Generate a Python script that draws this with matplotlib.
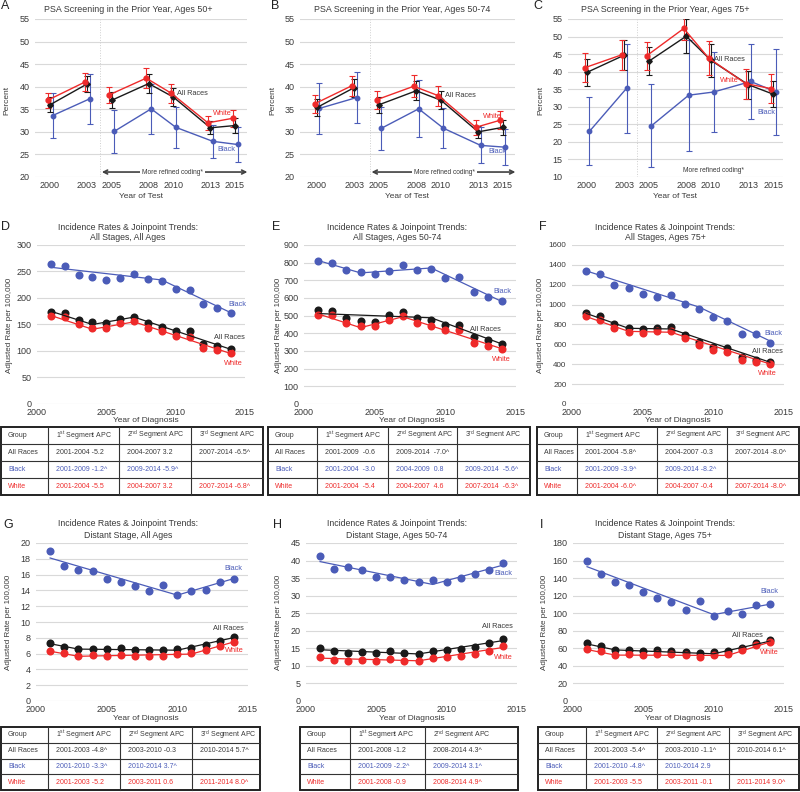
import matplotlib
matplotlib.use('Agg')
import matplotlib.pyplot as plt

plt.rcParams['font.family'] = ['Liberation Sans', 'DejaVu Sans']
plt.rcParams['mathtext.default'] = 'regular'

W, H = 800, 792
fig = plt.figure(figsize=(8, 7.92), dpi=100)

BLACK = '#1a1a1a'
BLUE = '#4b5cb8'
RED = '#ee2a2a'
GRID = '#d9d9d9'
TXT = '#3a3a3a'

# ---------------- DATA ----------------
psa_years = [2000, 2003, 2005, 2008, 2010, 2013, 2015]

psaA_all = [36.0, 40.6, 37.0, 40.7, 37.7, 30.9, 31.4]
psaA_all_err = [1.7, 1.8, 1.8, 2.1, 2.0, 1.4, 1.7]
psaA_white = [37.0, 41.0, 38.2, 41.9, 38.6, 32.0, 33.0]
psaA_white_err = [1.7, 2.0, 1.8, 2.2, 2.1, 1.5, 1.9]
psaA_black = [33.6, 37.3, 30.1, 35.1, 31.0, 27.9, 27.2]
psaA_black_err = [5.0, 5.5, 4.8, 5.5, 4.6, 3.7, 3.8]

psaB_all = [35.4, 39.8, 36.0, 39.1, 37.0, 30.0, 31.0]
psaB_all_err = [1.8, 2.0, 1.8, 2.1, 2.0, 1.4, 1.7]
psaB_white = [36.2, 40.2, 37.1, 40.1, 38.0, 31.0, 32.6]
psaB_white_err = [2.0, 2.2, 2.0, 2.4, 2.2, 1.6, 2.0]
psaB_black = [35.2, 37.6, 30.8, 35.1, 30.8, 27.0, 26.6]
psaB_black_err = [5.7, 5.7, 4.8, 6.3, 4.4, 4.0, 4.0]

psaC_all = [39.8, 44.7, 43.0, 50.1, 43.2, 36.3, 33.6]
psaC_all_err = [3.8, 4.2, 4.0, 4.9, 4.8, 4.0, 3.8]
psaC_white = [41.1, 44.8, 44.5, 52.3, 43.9, 36.6, 35.2]
psaC_white_err = [4.1, 4.3, 4.0, 3.4, 4.9, 4.3, 4.1]
psaC_black = [23.0, 35.3, 24.6, 33.3, 34.2, 37.2, 34.3]
psaC_black_err = [9.7, 12.7, 11.8, 15.8, 11.5, 10.6, 12.2]

inc_years = [2001, 2002, 2003, 2004, 2005, 2006, 2007,
             2008, 2009, 2010, 2011, 2012, 2013, 2014]

incD_black = [264, 260, 243, 240, 234, 238, 246, 235, 233, 217, 216, 189, 182, 171]
incD_all = [174, 172, 158, 154, 152, 161, 165, 153, 146, 137, 137, 114, 110, 104]
incD_white = [166, 164, 150, 144, 143, 152, 156, 144, 137, 128, 127, 106, 102, 96]
fitD_black_x, fitD_black_y = [2001, 2009, 2014], [258, 234, 172]
fitD_all_x, fitD_all_y = [2001, 2004, 2007, 2014], [175, 150, 164, 103]
fitD_white_x, fitD_white_y = [2001, 2004, 2007, 2014], [167, 141, 155, 95]

incE_black = [811, 798, 757, 747, 734, 753, 785, 758, 764, 715, 717, 632, 608, 585]
incE_all = [532, 528, 485, 472, 464, 502, 521, 489, 477, 447, 447, 377, 360, 340]
incE_white = [506, 504, 457, 443, 440, 477, 498, 460, 443, 419, 419, 343, 328, 313]
fitE_black_x, fitE_black_y = [2001, 2004, 2009, 2014], [812, 742, 770, 580]
fitE_all_x, fitE_all_y = [2001, 2009, 2014], [512, 488, 340]
fitE_white_x, fitE_white_y = [2001, 2004, 2007, 2014], [510, 432, 494, 313]

incF_black = [1342, 1308, 1197, 1169, 1105, 1081, 1092, 1003, 956, 871, 834, 705, 705, 617]
incF_all = [915, 885, 810, 769, 756, 769, 773, 692, 627, 576, 559, 475, 447, 427]
incF_white = [881, 847, 769, 729, 719, 736, 736, 661, 590, 539, 522, 441, 424, 403]
fitF_black_x, fitF_black_y = [2001, 2009, 2014], [1340, 975, 635]
fitF_all_x, fitF_all_y = [2001, 2004, 2007, 2014], [912, 762, 755, 421]
fitF_white_x, fitF_white_y = [2001, 2004, 2007, 2014], [880, 731, 722, 403]

incG_black = [18.94, 17.12, 16.6, 16.4, 15.5, 15.08, 14.53, 13.94, 14.66, 13.47, 13.94, 14.07, 15.08, 15.47]
incG_all = [7.29, 6.86, 6.57, 6.57, 6.53, 6.65, 6.48, 6.44, 6.48, 6.61, 6.74, 7.08, 7.58, 8.05]
incG_white = [6.31, 6.02, 5.64, 5.76, 5.72, 5.85, 5.72, 5.68, 5.72, 5.97, 6.06, 6.48, 6.99, 7.5]
fitG_black_x, fitG_black_y = [2001, 2010, 2014], [18.1, 13.4, 15.5]
fitG_all_x, fitG_all_y = [2001, 2003, 2010, 2014], [7.25, 6.57, 6.43, 8.03]
fitG_white_x, fitG_white_y = [2001, 2003, 2011, 2014], [6.3, 5.66, 5.94, 7.48]

incH_black = [41.4, 37.5, 38.2, 37.4, 35.4, 35.4, 34.4, 34.0, 34.4, 34.0, 35.0, 36.2, 37.4, 39.2]
incH_all = [15.06, 14.1, 13.8, 13.9, 13.8, 14.1, 13.6, 13.3, 14.3, 14.6, 14.9, 15.3, 16.4, 17.7]
incH_white = [12.6, 11.8, 11.4, 11.6, 11.5, 12.0, 11.4, 11.3, 12.2, 12.5, 12.9, 13.3, 14.2, 15.6]
fitH_black_x, fitH_black_y = [2001, 2009, 2014], [39.7, 33.2, 38.7]
fitH_all_x, fitH_all_y = [2001, 2008, 2014], [14.6, 13.4, 17.2]
fitH_white_x, fitH_white_y = [2001, 2008, 2014], [12.2, 11.45, 15.25]

incI_black = [159.8, 144.6, 135.5, 132.1, 124.5, 117.3, 112.7, 104.0, 114.2, 96.3, 102.1, 99.0, 109.7, 110.8]
incI_all = [65.6, 62.5, 58.0, 58.0, 56.8, 57.6, 56.8, 56.0, 54.5, 55.3, 56.4, 60.2, 65.6, 69.0]
incI_white = [58.7, 56.4, 52.6, 53.0, 52.6, 53.4, 53.0, 52.6, 50.3, 52.6, 53.4, 58.0, 63.3, 67.1]
fitI_black_x, fitI_black_y = [2001, 2010, 2014], [153, 98.4, 110.3]
fitI_all_x, fitI_all_y = [2001, 2003, 2010, 2014], [65, 58.2, 53.8, 68.2]
fitI_white_x, fitI_white_y = [2001, 2003, 2011, 2014], [58.6, 52.3, 51.9, 67.2]

table_header = ['Group', '1$^{st}$ Segment APC', '2$^{nd}$ Segment APC', '3$^{rd}$ Segment APC']
groups = ['All Races', 'Black', 'White']
tabD = [['2001-2004 -5.2', '2004-2007 3.2', '2007-2014 -6.5^'],
        ['2001-2009 -1.2^', '2009-2014 -5.9^', ''],
        ['2001-2004 -5.5', '2004-2007 3.2', '2007-2014 -6.8^']]
tabE = [['2001-2009  -0.6', '2009-2014  -7.0^', ''],
        ['2001-2004  -3.0', '2004-2009  0.8', '2009-2014  -5.6^'],
        ['2001-2004  -5.4', '2004-2007  4.6', '2007-2014  -6.3^']]
tabF = [['2001-2004 -5.8^', '2004-2007 -0.3', '2007-2014 -8.0^'],
        ['2001-2009 -3.9^', '2009-2014 -8.2^', ''],
        ['2001-2004 -6.0^', '2004-2007 -0.4', '2007-2014 -8.0^']]
tabG = [['2001-2003 -4.8^', '2003-2010 -0.3', '2010-2014 5.7^'],
        ['2001-2010 -3.3^', '2010-2014 3.7^', ''],
        ['2001-2003 -5.2', '2003-2011 0.6', '2011-2014 8.0^']]
tabH = [['2001-2008 -1.2', '2008-2014 4.3^'],
        ['2001-2009 -2.2^', '2009-2014 3.1^'],
        ['2001-2008 -0.9', '2008-2014 4.9^']]
tabI = [['2001-2003 -5.4^', '2003-2010 -1.1^', '2010-2014 6.1^'],
        ['2001-2010 -4.8^', '2010-2014 2.9', ''],
        ['2001-2003 -5.5', '2003-2011 -0.1', '2011-2014 9.0^']]


# ---------------- HELPERS ----------------
def rect(x0, y0, x1, y1):
    return [x0 / W, 1 - y1 / H, (x1 - x0) / W, (y1 - y0) / H]


def ftext(x, y, s, **kw):
    fig.text(x / W, 1 - y / H, s, **kw)


def style_axes(ax, ylim, yticks, xticks, ysize=6.5):
    ax.set_ylim(*ylim)
    ax.set_yticks(yticks)
    ax.set_xticks(xticks)
    ax.set_xticklabels([str(t) for t in xticks])
    for s in ax.spines.values():
        s.set_visible(False)
    ax.yaxis.grid(True, color=GRID, lw=0.8)
    ax.set_axisbelow(True)
    ax.tick_params(length=0, labelsize=6.5, colors=TXT, pad=4)
    ax.tick_params(axis='y', labelsize=ysize)
    ax.tick_params(axis='x', pad=3)


def psa_panel(px, xlim, ylim, yticks, series, labels, vline, arrow):
    ax = fig.add_axes(rect(*px))
    ax.set_xlim(*xlim)
    style_axes(ax, ylim, yticks, psa_years)
    ax.axvline(vline, color='#cfcfcf', lw=0.7, ls=':')
    for vals, errs, color, marker, ms, dx in series:
        xs = [y + dx for y in psa_years]
        ax.errorbar(xs, vals, yerr=errs, fmt='none', ecolor=color, elinewidth=0.8,
                    capsize=2.0, capthick=0.8, zorder=3)
        for a, b in [(0, 2), (2, 7)]:
            ax.plot(xs[a:b], vals[a:b], color=color, lw=1.0, marker=marker,
                    ms=ms, zorder=4)
    for txt, x, y, c in labels:
        ax.text(x, y, txt, color=c, fontsize=5.3, ha='left', va='center', zorder=6)
    x0, x1, y, xt = arrow
    ax.annotate('', xy=(x1, y), xytext=(x0, y),
                arrowprops=dict(arrowstyle='<->', color='#404040', lw=1.2,
                                mutation_scale=7, shrinkA=0, shrinkB=0))
    ax.text(xt, y, 'More refined coding*', fontsize=4.8, color=TXT, ha='center',
            va='center', bbox=dict(fc='white', ec='none', pad=1.5), zorder=7)
    return ax


def inc_panel(px, ylim, yticks, pts, fits, labels, ysize=6.5):
    ax = fig.add_axes(rect(*px))
    ax.set_xlim(2000, 2015)
    style_axes(ax, ylim, yticks, [2000, 2005, 2010, 2015], ysize)
    for vals, color in pts:
        ax.plot(inc_years, vals, ls='none', marker='o', ms=5.8, color=color,
                mec='none', zorder=3)
    for fx, fy, color in fits:
        ax.plot(fx, fy, color=color, lw=0.9, zorder=4)
    for txt, x, y, c in labels:
        ax.text(x, y, txt, color=c, fontsize=5.3, ha='right', va='center', zorder=6)
    return ax


def draw_table(x0, y0, x1, y1, cols, header, rows):
    ax = fig.add_axes(rect(x0, y0, x1, y1))
    ax.set_xlim(x0, x1)
    ax.set_ylim(y1, y0)
    ax.axis('off')
    n = len(rows) + 1
    rh = (y1 - y0) / n
    for i in range(1, n):
        ax.plot([x0, x1], [y0 + i * rh] * 2, color='#333333', lw=0.8, clip_on=False)
    for c in cols[1:-1]:
        ax.plot([c, c], [y0, y1], color='#333333', lw=0.8, clip_on=False)
    ax.add_patch(plt.Rectangle((x0, y0), x1 - x0, y1 - y0, fill=False,
                               ec='#222222', lw=1.4, clip_on=False))
    colors = [TXT, BLUE, RED]
    allrows = [(header, TXT)] + [([g] + r, colors[i]) for i, (g, r) in
                                  enumerate(zip(groups, rows))]
    for i, (cells, col) in enumerate(allrows):
        yc = y0 + (i + 0.5) * rh
        for j, s in enumerate(cells[:len(cols) - 1]):
            pad = 8 if j > 0 else 7
            ax.text(cols[j] + pad, yc, s, fontsize=5.0, color=col, ha='left',
                    va='center')


# ---------------- PSA ROW ----------------
def psa_series(allv, alle, wv, we, bv, be):
    return [(bv, be, BLUE, 'o', 3.2, 0.2),
            (allv, alle, BLACK, 'D', 2.8, 0.0),
            (wv, we, RED, 'o', 3.5, -0.2)]

psa_panel((35, 19, 247, 177), (1998.78, 2015.97), (20, 55), range(20, 56, 5),
          psa_series(psaA_all, psaA_all_err, psaA_white, psaA_white_err,
                     psaA_black, psaA_black_err),
          [('All Races', 2010.3, 38.6, TXT), ('White', 2013.2, 34.0, RED),
           ('Black', 2013.6, 26.0, BLUE)],
          2004.05, (2004.2, 2016.0, 21.1, 2009.9))
psa_panel((300, 19, 515, 177), (1998.63, 2015.97), (20, 55), range(20, 56, 5),
          psa_series(psaB_all, psaB_all_err, psaB_white, psaB_white_err,
                     psaB_black, psaB_black_err),
          [('All Races', 2010.3, 38.0, TXT), ('White', 2013.4, 33.4, RED),
           ('Black', 2013.8, 25.7, BLUE)],
          2004.3, (2004.4, 2016.0, 21.1, 2010.3))
psa_panel((568, 19, 783, 177), (1998.47, 2015.8), (10, 55), range(10, 56, 5),
          psa_series(psaC_all, psaC_all_err, psaC_white, psaC_white_err,
                     psaC_black, psaC_black_err),
          [('All Races', 2010.2, 43.6, TXT), ('White', 2010.7, 37.4, RED),
           ('Black', 2013.7, 28.4, BLUE)],
          2004.0, (2004.1, 2015.9, 11.8, 2010.2))

for xc, t in [(128, 'PSA Screening in the Prior Year, Ages 50+'),
              (402, 'PSA Screening in the Prior Year, Ages 50-74'),
              (665, 'PSA Screening in the Prior Year, Ages 75+')]:
    ftext(xc, 10, t, fontsize=6.4, color=TXT, ha='center', va='center')
for xc in [141, 407, 675]:
    ftext(xc, 196, 'Year of Test', fontsize=6.0, color=TXT, ha='center', va='center')
for xc in [7, 273, 541]:
    ftext(xc, 100, 'Percent', fontsize=6.0, color=TXT, ha='center', va='center',
          rotation=90)
for x, t in [(5, 'A'), (275, 'B'), (538, 'C')]:
    ftext(x, 6, t, fontsize=9, color='#222222', ha='center', va='center')

# ---------------- INCIDENCE ROWS ----------------
def pts3(b, a, w):
    return [(b, BLUE), (a, BLACK), (w, RED)]

inc_panel((37, 245, 245, 404), (0, 300), range(0, 301, 50),
          pts3(incD_black, incD_all, incD_white),
          [(fitD_black_x, fitD_black_y, BLUE), (fitD_all_x, fitD_all_y, BLACK),
           (fitD_white_x, fitD_white_y, RED)],
          [('Black', 2015.1, 187, BLUE), ('All Races', 2015.0, 125, TXT),
           ('White', 2014.8, 76, RED)])
inc_panel((304, 245, 516, 404), (0, 900), range(0, 901, 100),
          pts3(incE_black, incE_all, incE_white),
          [(fitE_black_x, fitE_black_y, BLUE), (fitE_all_x, fitE_all_y, BLACK),
           (fitE_white_x, fitE_white_y, RED)],
          [('Black', 2014.7, 636, BLUE), ('All Races', 2013.9, 419, TXT),
           ('White', 2014.6, 253, RED)])
inc_panel((572, 245, 784, 404), (0, 1600), range(0, 1601, 200),
          pts3(incF_black, incF_all, incF_white),
          [(fitF_black_x, fitF_black_y, BLUE), (fitF_all_x, fitF_all_y, BLACK),
           (fitF_white_x, fitF_white_y, RED)],
          [('Black', 2014.9, 708, BLUE), ('All Races', 2014.9, 529, TXT),
           ('White', 2014.5, 309, RED)], ysize=5.8)
inc_panel((36, 543, 248, 701), (0, 20), range(0, 21, 2),
          pts3(incG_black, incG_all, incG_white),
          [(fitG_black_x, fitG_black_y, BLUE), (fitG_all_x, fitG_all_y, BLACK),
           (fitG_white_x, fitG_white_y, RED)],
          [('Black', 2014.6, 16.8, BLUE), ('All Races', 2014.7, 9.2, TXT),
           ('White', 2014.7, 6.4, RED)])
inc_panel((306, 543, 517, 701), (0, 45), range(0, 46, 5),
          pts3(incH_black, incH_all, incH_white),
          [(fitH_black_x, fitH_black_y, BLUE), (fitH_all_x, fitH_all_y, BLACK),
           (fitH_white_x, fitH_white_y, RED)],
          [('Black', 2014.7, 36.2, BLUE), ('All Races', 2014.7, 21.2, TXT),
           ('White', 2014.7, 12.3, RED)])
inc_panel((573, 543, 784, 701), (0, 180), range(0, 181, 20),
          pts3(incI_black, incI_all, incI_white),
          [(fitI_black_x, fitI_black_y, BLUE), (fitI_all_x, fitI_all_y, BLACK),
           (fitI_white_x, fitI_white_y, RED)],
          [('Black', 2014.6, 124.9, BLUE), ('All Races', 2013.5, 74.7, TXT),
           ('White', 2014.6, 55, RED)])

inc_titles = [(128, 227, 'All Stages, All Ages'), (397, 227, 'All Stages, Ages 50-74'),
              (665, 227, 'All Stages, Ages 75+'), (128, 524, 'Distant Stage, All Ages'),
              (397, 524, 'Distant Stage, Ages 50-74'), (665, 524, 'Distant Stage, Ages 75+')]
for xc, y, t in inc_titles:
    ftext(xc, y, 'Incidence Rates & Joinpoint Trends:', fontsize=6.3, color=TXT,
          ha='center', va='center')
    ftext(xc, y + 11, t, fontsize=6.3, color=TXT, ha='center', va='center')
for x, y, t in [(6, 227, 'D'), (276, 227, 'E'), (543, 227, 'F'),
                (8, 525, 'G'), (277, 525, 'H'), (542, 525, 'I')]:
    ftext(x, y, t, fontsize=9, color='#222222', ha='center', va='center')
for xc, y in [(10, 325), (278, 325), (541, 325), (9, 622), (278, 622), (545, 622)]:
    ftext(xc, y, 'Adjusted Rate per 100,000', fontsize=5.8, color=TXT,
          ha='center', va='center', rotation=90)
for xc, y in [(146, 420), (412, 420), (678, 420), (146, 718), (412, 718), (678, 718)]:
    ftext(xc, y, 'Year of Diagnosis', fontsize=6.0, color=TXT, ha='center', va='center')

# ---------------- TABLES ----------------
draw_table(1, 427, 263, 495, [1, 48, 119, 191, 263], table_header, tabD)
draw_table(268, 427, 530, 495, [268, 317, 388, 457, 530], table_header, tabE)
draw_table(537, 427, 799, 495, [537, 577, 657, 727, 799], table_header, tabF)
draw_table(1, 727, 260, 790, [1, 48, 120, 192, 260], table_header, tabG)
draw_table(300, 727, 518, 790, [300, 350, 425, 518], table_header[:3], tabH)
draw_table(538, 727, 799, 790, [538, 586, 657, 729, 799], table_header, tabI)

fig.savefig('out.png', dpi=100)
